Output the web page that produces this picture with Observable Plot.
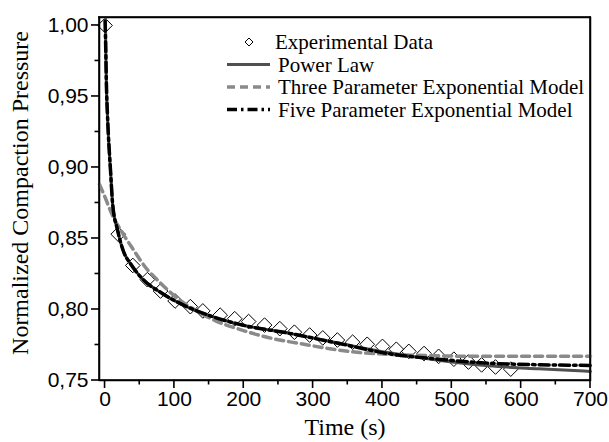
<!DOCTYPE html>
<html><head><meta charset="utf-8">
<script src="https://cdn.jsdelivr.net/npm/d3@7"></script>
<script src="https://cdn.jsdelivr.net/npm/@observablehq/plot@0.6"></script>
<style>
body{margin:0;background:#fff;}
#wrap{width:609px;height:442px;}
</style>
</head><body>
<div id="wrap"></div>
<script>
// Experimental data
const expTime = [0, 19, 40, 61, 80, 101, 123, 141, 166, 187, 207, 230, 252, 273, 295, 314, 335, 357, 378, 400, 420, 438, 460, 481, 503, 524, 543, 563, 585];
const expValue = [1.000, 0.853, 0.831, 0.821, 0.813, 0.806, 0.802, 0.799, 0.796, 0.7935, 0.7915, 0.789, 0.7865, 0.784, 0.782, 0.780, 0.7785, 0.777, 0.7755, 0.774, 0.772, 0.7705, 0.769, 0.767, 0.765, 0.763, 0.761, 0.7595, 0.758];

// Power law
const powerTime = [0.6, 1, 2, 3.6, 8, 11, 18, 26.5, 37, 54, 82, 120, 158, 194, 266, 338, 410, 481, 553, 625, 700];
const powerValue = [1.005, 0.985, 0.957, 0.935, 0.897, 0.874, 0.856, 0.841, 0.832, 0.8215, 0.8115, 0.8015, 0.7945, 0.7895, 0.7832, 0.7762, 0.7695, 0.7642, 0.7603, 0.7582, 0.7564];

// Three parameter exponential model
const threeTime = [-8, 0, 10, 25, 41, 61, 75, 104, 132, 161, 194, 242, 285, 324, 367, 420, 467, 550, 700];
const threeValue = [0.888, 0.879, 0.867, 0.854, 0.842, 0.828, 0.821, 0.808, 0.799, 0.7917, 0.786, 0.7795, 0.7757, 0.7723, 0.7697, 0.7682, 0.7675, 0.767, 0.767];

// Five parameter exponential model
const fiveTime = [0, 1, 2, 3.6, 8, 11, 18, 26.5, 37, 54, 82, 120, 158, 194, 266, 338, 410, 481, 553, 625, 700];
const fiveValue = [1.003, 0.984, 0.958, 0.936, 0.897, 0.874, 0.856, 0.841, 0.832, 0.8215, 0.8115, 0.8015, 0.7945, 0.7895, 0.7832, 0.776, 0.7688, 0.7650, 0.7622, 0.7611, 0.7606];

const xMajor = [0, 100, 200, 300, 400, 500, 600, 700];
const xMinor = [50, 150, 250, 350, 450, 550, 650];
const yMajor = [0.75, 0.80, 0.85, 0.90, 0.95, 1.00];
const yMinor = [0.775, 0.825, 0.875, 0.925, 0.975];
const xDomain = [-8, 700];
const yDomain = [0.75, 1.0056];

const seriesNames = ["Experimental Data", "Power Law", "Three Parameter Exponential Model", "Five Parameter Exponential Model"];
const xTitle = "Time (s)";
const yTitle = "Normalized Compaction Pressure";

const zip = (ts, vs) => ts.map((t, i) => ({t, v: vs[i]}));
const expData = zip(expTime, expValue);
const powerData = zip(powerTime, powerValue);
const threeData = zip(threeTime, threeValue);
const fiveData = zip(fiveTime, fiveValue);

const fmt = d => d.toFixed(2).replace(".", ",");
const serif = "'Liberation Serif', 'Times New Roman', serif";

const chart = Plot.plot({
  width: 609,
  height: 442,
  marginLeft: 99,
  marginRight: 19,
  marginTop: 17,
  marginBottom: 62,
  style: {fontFamily: "'Liberation Sans', Arial, sans-serif", fontSize: "21px"},
  x: {domain: xDomain},
  y: {domain: yDomain},
  marks: [
    Plot.frame({stroke: "black", strokeWidth: 1.5}),
    Plot.dot(expData, {x: "t", y: "v", symbol: "diamond2", r: 6.6, stroke: "black", strokeWidth: 1, fill: "none"}),
    Plot.line(threeData, {x: "t", y: "v", curve: "monotone-x", stroke: "#8a8a8a", strokeWidth: 3.5, strokeDasharray: "8,5"}),
    Plot.line(powerData, {x: "t", y: "v", curve: "monotone-x", stroke: "#505050", strokeWidth: 3}),
    Plot.line(fiveData, {x: "t", y: "v", curve: "monotone-x", stroke: "black", strokeWidth: 3.5, strokeDasharray: "10,4,2.5,4"}),
    Plot.axisX({ticks: xMajor, tickSize: 0, tickPadding: 11, tickFormat: d => String(d), label: null, fill: "black"}),
    Plot.axisY({ticks: yMajor, tickSize: 0, tickPadding: 11, tickFormat: fmt, label: null, fill: "black"}),
    Plot.text([xTitle], {text: d => d, frameAnchor: "bottom", lineAnchor: "middle", dy: 47, fontSize: 24, fontFamily: serif, fill: "black"}),
    Plot.text([yTitle], {text: d => d, frameAnchor: "left", textAnchor: "middle", lineAnchor: "middle", rotate: -90, dx: -79, dy: -6, fontSize: 24, fontFamily: serif, fill: "black"})
  ]
});
const wrap = document.getElementById("wrap");
wrap.appendChild(chart);

// Frame and ticks as filled bars, positioned through Plot's own scales
const sx = v => chart.scale("x").apply(v);
const sy = v => chart.scale("y").apply(v);
const x0 = sx(xDomain[0]), x1 = sx(xDomain[1]);
const y0 = sy(yDomain[0]), y1 = sy(yDomain[1]);
const g = d3.select(chart).append("g").attr("class", "frame-ticks");
const w = 1.6;
const bar = (x, y, width, height) => g.append("rect")
  .attr("x", x).attr("y", y).attr("width", width).attr("height", height)
  .attr("fill", "#000").attr("stroke", "none");
bar(x0 - w / 2, y1 - w / 2, x1 - x0 + w, w);
bar(x0 - w / 2, y0 - w / 2, x1 - x0 + w, w);
bar(x0 - w / 2, y1 - w / 2, w, y0 - y1 + w);
bar(x1 - w / 2, y1 - w / 2, w, y0 - y1 + w);
xMajor.forEach(v => bar(sx(v) - w / 2, y0, w, 8));
xMinor.forEach(v => bar(sx(v) - w / 2, y0, w, 4.5));
yMajor.forEach(v => bar(x0 - 8, sy(v) - w / 2, 8, w));
yMinor.forEach(v => bar(x0 - 4.5, sy(v) - w / 2, 4.5, w));

// Legend drawn into the chart's SVG
const styles = [
  {type: "dot"},
  {type: "line", stroke: "#505050", width: 3, dash: null},
  {type: "line", stroke: "#8a8a8a", width: 3.5, dash: "8,5"},
  {type: "line", stroke: "black", width: 3.5, dash: "10,4,2.5,4"}
];
const leg = d3.select(chart).append("g").attr("class", "legend");
const rowY = i => 42 + i * 22.5;
seriesNames.forEach((name, i) => {
  const st = styles[i];
  const y = rowY(i);
  if (st.type === "dot") {
    const s = 4;
    leg.append("path").attr("d", `M249,${y - s}L${249 + s},${y}L249,${y + s}L${249 - s},${y}Z`)
      .attr("fill", "none").attr("stroke", "black").attr("stroke-width", 1);
  } else {
    leg.append("line").attr("x1", 227).attr("x2", 270).attr("y1", y).attr("y2", y)
      .attr("stroke", st.stroke).attr("stroke-width", st.width).attr("stroke-dasharray", st.dash);
  }
  leg.append("text").attr("x", i === 0 ? 275 : 278).attr("y", y).attr("dy", "0.35em")
    .attr("text-anchor", "start")
    .attr("font-family", serif).attr("font-size", 21).attr("fill", "black").text(name);
});
</script>
</body></html>
